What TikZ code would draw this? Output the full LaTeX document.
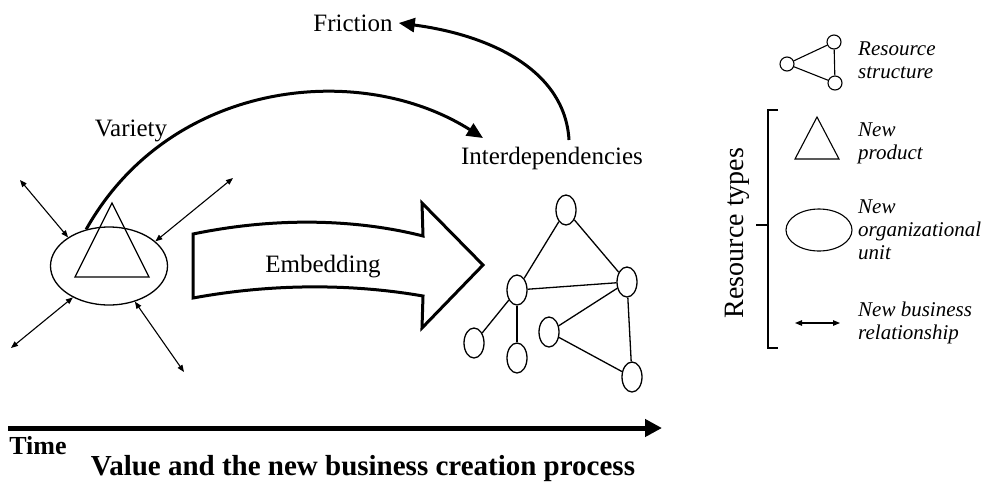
\documentclass[tikz,border=0pt]{standalone}
\usepackage{fontspec}
\setmainfont{Liberation Serif}
\usetikzlibrary{arrows.meta,shapes.geometric}
\tikzset{
  lbl/.style={font=\fontsize{25}{28}\selectfont, inner sep=0pt},
  keytext/.style={font=\itshape\fontsize{21}{23}\selectfont, anchor=west, align=left, inner sep=0pt},
  res/.style={draw, ellipse, line width=1.3pt, minimum width=20pt, minimum height=30pt, inner sep=0pt},
  dot/.style={draw, circle, line width=1.1pt, minimum size=14pt, inner sep=0pt},
  link/.style={line width=1.3pt},
  tie/.style={{Triangle[length=7pt,width=5.5pt]}-{Triangle[length=7pt,width=5.5pt]}, line width=1.1pt},
  bigarrow/.style={-{Triangle[length=16pt,width=14pt]}, line width=3pt},
}
\begin{document}
\begin{tikzpicture}[x=1pt,y=-1pt]
  \useasboundingbox (0,0) rectangle (993,483);

  % new resources at the start
  \node[draw, ellipse, line width=1.3pt, minimum width=117pt, minimum height=78pt] (org) at (109,266) {};
  \draw[line width=1.3pt] (112,203) -- (75,277) -- (149,277) -- cycle;
  \coordinate (t1) at (20,180);
  \coordinate (t2) at (233,178);
  \coordinate (t3) at (11,348);
  \coordinate (t4) at (184,372);
  \draw[tie] (t1) -- (org.145);
  \draw[tie] (t2) -- (org.28);
  \draw[tie] (t3) -- (org.221);
  \draw[tie] (t4) -- (org.306);

  % embedding arrow
  \draw[line width=3pt, line join=miter]
    (193,234) .. controls (280,216) and (360,220) .. (423,236)
    -- (422,203) -- (483,265) -- (422,328) -- (423,296)
    .. controls (360,285) and (280,282) .. (193,298) -- cycle;
  \node[lbl] (emb) at (323,267) {Embedding};

  % resource structure
  \draw
    (566,210) node[res] (1){}
    (517,290) node[res] (2){}
    (627,282) node[res] (3){}
    (474,343) node[res] (4){}
    (517,358) node[res] (5){}
    (549,332) node[res] (6){}
    (632,377) node[res] (7){};
  \begin{scope}[link]
    \draw (1) to (2);
    \draw (1) to (3);
    \draw (2) to (3);
    \draw (2) to (4);
    \draw (2) to (5);
    \draw (3) to (6);
    \draw (6) to (7);
    \draw (3) to (7);
  \end{scope}

  % labels and curved arrows
  \node[lbl] (var) at (131,131) {Variety};
  \node[lbl] (intd) at (552,158) {Interdependencies};
  \node[lbl] (fric) at (353,23) {Friction};
  \coordinate (vtip) at (483,138);
  \coordinate (fstart) at (569,140);
  \draw[bigarrow] (org.122) .. controls (170,80) and (360,60) .. (vtip);
  \draw[bigarrow] (fstart) .. controls (565,70) and (490,35) .. ([xshift=6pt]fric.east);

  % time axis
  \coordinate (t0) at (8,428);
  \coordinate (tend) at (662,428);
  \draw[line width=5pt, -{Triangle[length=17pt,width=17pt]}] (t0) -- (tend);
  \node[font=\bfseries\fontsize{26}{28}\selectfont, inner sep=0pt] (time) at (38,446) {Time};
  \node[font=\bfseries\fontsize{29}{31}\selectfont, inner sep=0pt] (title) at (363,469) {Value and the new business creation process};

  % legend
  \draw
    (787,64) node[dot] (s1){}
    (834,42) node[dot] (s2){}
    (835,83) node[dot] (s3){};
  \begin{scope}[line width=1.1pt]
    \draw (s1) to (s2);
    \draw (s2) to (s3);
    \draw (s3) to (s1);
  \end{scope}
  \node[keytext] (k1) at (858,60) {Resource\\structure};
  \draw[line width=1.1pt] (817,117) -- (795,159) -- (839,159) -- cycle;
  \node[keytext] (k2) at (858,143) {New\\product};
  \node[draw, ellipse, line width=1.1pt, minimum width=66pt, minimum height=42pt] (kunit) at (819,230) {};
  \node[keytext] (k3) at (858,230) {New\\organizational\\unit};
  \coordinate (r1) at (795,323);
  \coordinate (r2) at (840,323);
  \draw[tie] (r1) -- (r2);
  \node[keytext] (k4) at (858,323) {New business\\relationship};

  % bracket
  \draw[line width=1.3pt] (778,110) -- (768,110) -- (768,348) -- (778,348);
  \draw[line width=1.3pt] (756,225) -- (768,225);
  \node[font=\fontsize{28}{30}\selectfont, rotate=90, inner sep=0pt] (rtypes) at (737,233) {Resource types};
\end{tikzpicture}
\end{document}
